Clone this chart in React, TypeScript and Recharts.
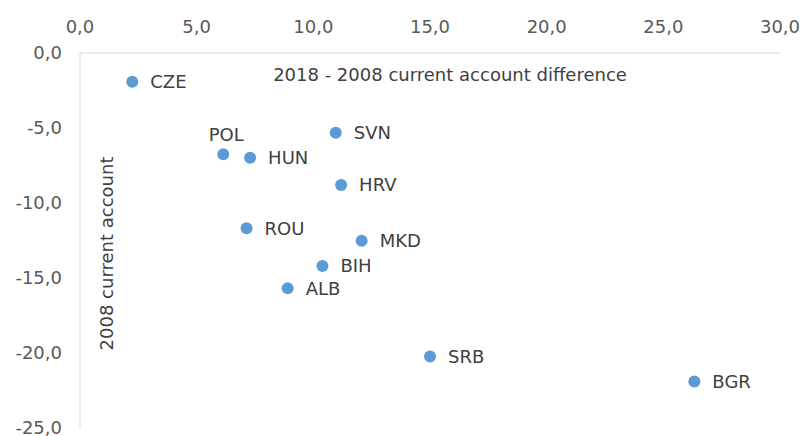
import React from 'react';
import { ScatterChart, Scatter, XAxis, YAxis } from 'recharts';

const countries = ['CZE', 'POL', 'HUN', 'SVN', 'HRV', 'ROU', 'MKD', 'BIH', 'ALB', 'SRB', 'BGR'];
const diffValues = [2.24, 6.14, 7.29, 10.96, 11.19, 7.14, 12.07, 10.39, 8.9, 15.0, 26.33];
const ca2008Values = [-1.91, -6.75, -6.98, -5.31, -8.8, -11.69, -12.51, -14.2, -15.69, -20.24, -21.9];
const xTicks = [0, 5, 10, 15, 20, 25, 30];
const yTicks = [0, -5, -10, -15, -20, -25];

const data = countries.map((name, i) => ({ name, x: diffValues[i], y: ca2008Values[i] }));

const FONT = '"DejaVu Sans", Verdana, sans-serif';
const fmt = (v: number) => v.toFixed(1).replace('.', ',');

const DotShape = (props: any) => {
  const { cx, cy, payload } = props;
  const r = 6;
  const top = payload.name === 'POL';
  return (
    <g>
      <circle cx={cx} cy={cy} r={r} fill="#5b9bd5" />
      <text
        x={top ? cx + 3 : cx + 18}
        y={top ? cy - 13 : cy}
        dy={top ? 0 : '0.355em'}
        textAnchor={top ? 'middle' : 'start'}
        fontFamily={FONT}
        fontSize={18}
        fill="#404040"
      >
        {payload.name}
      </text>
    </g>
  );
};

export default function App() {
  return (
    <div style={{ position: 'absolute', left: 0, top: 0, background: '#fff' }}>
      <ScatterChart width={801} height={436} margin={{ top: 0, right: 21, bottom: 8, left: 0 }}>
        <XAxis
          type="number"
          dataKey="x"
          orientation="top"
          domain={[0, 30]}
          ticks={xTicks}
          tickFormatter={fmt}
          height={53}
          tickSize={0}
          tickMargin={20}
          tickLine={false}
          axisLine={{ stroke: '#d9d9d9', strokeWidth: 1 }}
          tick={{ fill: '#595959', fontSize: 18, fontFamily: FONT }}
          interval={0}
          label={{
            content: (p: any) => {
              const vb = p.viewBox;
              return (
                <text
                  x={vb.x + vb.width / 2 + 20}
                  y={vb.y + vb.height + 28}
                  textAnchor="middle"
                  fontFamily={FONT}
                  fontSize={18}
                  fill="#404040"
                >
                  2018 - 2008 current account difference
                </text>
              );
            },
          }}
        />
        <YAxis
          type="number"
          dataKey="y"
          domain={[-25, 0]}
          ticks={yTicks}
          tickFormatter={fmt}
          width={80}
          tickSize={0}
          tickMargin={18}
          tickLine={false}
          axisLine={{ stroke: '#d9d9d9', strokeWidth: 1 }}
          tick={{ fill: '#595959', fontSize: 18, fontFamily: FONT }}
          interval={0}
          label={{
            content: (p: any) => {
              const vb = p.viewBox;
              const x = vb.x + vb.width + 26;
              const y = vb.y + vb.height / 2 + 13;
              return (
                <text
                  x={x}
                  y={y}
                  transform={`rotate(-90, ${x}, ${y})`}
                  textAnchor="middle"
                  dominantBaseline="central"
                  fontFamily={FONT}
                  fontSize={18}
                  fill="#404040"
                >
                  2008 current account
                </text>
              );
            },
          }}
        />
        <Scatter data={data} shape={DotShape} isAnimationActive={false} />
      </ScatterChart>
    </div>
  );
}
